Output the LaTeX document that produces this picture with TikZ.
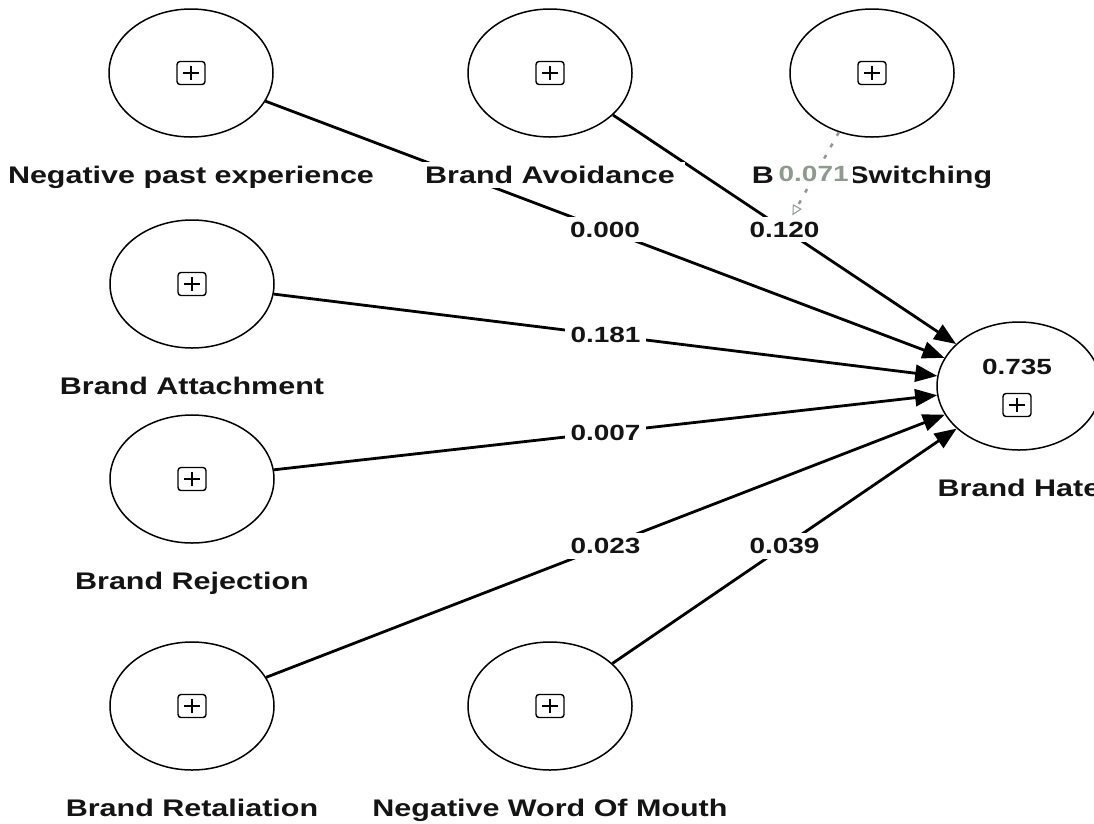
\documentclass[tikz,border=0pt]{standalone}
\usepackage{fontspec}
\setmainfont{Liberation Sans}[FakeStretch=1.27]
\usetikzlibrary{arrows.meta,positioning,shapes.geometric}
\definecolor{modgray}{HTML}{8E9A8E}
\begin{document}
\begin{tikzpicture}[x=1pt,y=-1pt,
  construct/.style={ellipse,draw,line width=1.5pt,minimum width=164pt,minimum height=128pt,inner sep=0pt},
  pbox/.style={draw,rounded corners=3pt,line width=1.4pt,minimum width=28pt,minimum height=23pt,inner sep=0pt,
    path picture={\draw[line width=1.4pt] ([xshift=-8pt]path picture bounding box.center) -- ([xshift=8pt]path picture bounding box.center)
      ([yshift=-7pt]path picture bounding box.center) -- ([yshift=7pt]path picture bounding box.center);}},
  cname/.style={font=\fontsize{24}{28}\selectfont\bfseries,text=black!92,fill=white,inner xsep=10pt,inner ysep=4pt},
  coef/.style={font=\fontsize{22}{26}\selectfont\bfseries,text=black!92,fill=white,inner xsep=6pt,inner ysep=5pt},
  effect/.style={line width=2.8pt,-{Triangle[length=22pt,width=17pt]}},
  moder/.style={modgray,line width=2.5pt,dash pattern=on 4pt off 9pt,-{Triangle[open,length=10pt,width=10pt,line width=1pt]}}]
\useasboundingbox (0,0) rectangle (1094,823);
\clip (0,0) rectangle (1094,823);

% constructs
\node[construct] (npe) at (191,73) {};
\node[construct] (bav) at (550,73) {};
\node[construct] (bsw) at (872,73) {};
\node[construct] (bat) at (192,284) {};
\node[construct] (brj) at (192,479) {};
\node[construct] (brt) at (192,706) {};
\node[construct] (nwm) at (550,706) {};
\node[construct] (bht) at (1019,386) {};

\foreach \c in {npe,bav,bsw,bat,brj,brt,nwm}
  \node[pbox] at (\c) {};
\node[pbox] (bhtbox) at (1017,405) {};
\node[font=\fontsize{22}{26}\selectfont\bfseries,text=black!92] (rsq) at (1017,367) {0.735};

% paths
\draw[effect] (npe) -- (bht) node[coef,midway] {0.000};
\draw[effect] (bav) -- (bht) node[coef,midway] (v120) {0.120};
\draw[effect] (bat) -- (bht) node[coef,midway] {0.181};
\draw[effect] (brj) -- (bht) node[coef,midway] {0.007};
\draw[effect] (brt) -- (bht) node[coef,midway] {0.023};
\draw[effect] (nwm) -- (bht) node[coef,midway] {0.039};

% names
\node[cname,below=46pt of npe.south,anchor=base] {Negative past experience};
\node[cname,below=46pt of bav.south,anchor=base] {Brand Avoidance};
\node[cname,below=46pt of bsw.south,anchor=base] {Brand Switching};
\node[cname,below=46pt of bat.south,anchor=base] {Brand Attachment};
\node[cname,below=46pt of brj.south,anchor=base] {Brand Rejection};
\node[cname,below=46pt of brt.south,anchor=base] {Brand Retaliation};
\node[cname,below=46pt of nwm.south,anchor=base] {Negative Word Of Mouth};
\node[cname,below=46pt of bht.south,anchor=base] {Brand Hate};

% moderating effect
\draw[moder] (bsw) -- (v120) node[coef,text=modgray,inner xsep=4pt,xshift=-2pt,midway] {0.071};
\end{tikzpicture}
\end{document}
